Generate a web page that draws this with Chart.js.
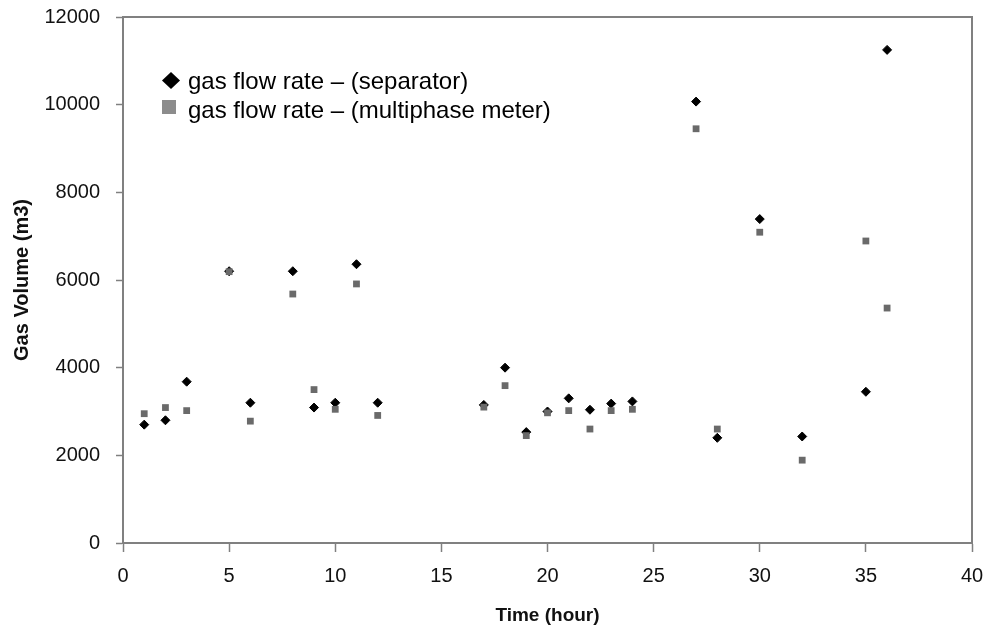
<!DOCTYPE html>
<html>
<head>
<meta charset="utf-8">
<title>Gas Volume vs Time</title>
<script src="https://cdn.jsdelivr.net/npm/chart.js@4.4.0/dist/chart.umd.min.js"></script>
<style>
    html, body { margin: 0; padding: 0; background: #ffffff; }
    #gasChart { display: block; }
</style>
</head>
<body>
<canvas id="gasChart" width="990" height="628"></canvas>
<script>
// Time (hour) of every measurement
const hours = [1, 2, 3, 5, 6, 8, 9, 10, 11, 12, 17, 18, 19, 20, 21, 22, 23, 24, 27, 28, 30, 32, 35, 36];

// Gas volume (m3) read from the separator
const separatorVolumes = [2700, 2800, 3680, 6200, 3200, 6200, 3090, 3200, 6360, 3200, 3150, 4000,
                          2530, 3000, 3300, 3040, 3180, 3230, 10070, 2400, 7390, 2430, 3450, 11250];

// Gas volume (m3) read from the multiphase meter
const meterVolumes = [2950, 3090, 3020, 6190, 2780, 5680, 3500, 3050, 5910, 2910, 3100, 3590,
                      2450, 2970, 3020, 2600, 3020, 3050, 9450, 2600, 7090, 1890, 6890, 5360];

const legendLabels = ['gas flow rate \u2013 (separator)', 'gas flow rate \u2013 (multiphase meter)'];
const xTicks = [0, 5, 10, 15, 20, 25, 30, 35, 40];
const yTicks = [0, 2000, 4000, 6000, 8000, 10000, 12000];

const axisGray = '#808080';
const fontFamily = '"Liberation Sans", Arial, sans-serif';

function toPoints(xs, ys) {
    return xs.map((x, i) => ({ x: x, y: ys[i] }));
}

// Box round the plot area (Excel style frame)
const frameBox = {
    id: 'frameBox',
    beforeDatasetsDraw(chart) {
        const { ctx, chartArea } = chart;
        ctx.save();
        ctx.strokeStyle = axisGray;
        ctx.lineWidth = 2;
        ctx.strokeRect(chartArea.left, chartArea.top, chartArea.right - chartArea.left, chartArea.bottom - chartArea.top);
        ctx.restore();
    }
};

// Legend drawn inside the plot, top left
const insideLegend = {
    id: 'insideLegend',
    afterDraw(chart) {
        const ctx = chart.ctx;
        ctx.save();
        ctx.font = '24px ' + fontFamily;
        ctx.fillStyle = '#000';
        ctx.textBaseline = 'alphabetic';

        // diamond marker
        ctx.beginPath();
        ctx.moveTo(171, 72);
        ctx.lineTo(180, 80.5);
        ctx.lineTo(171, 89);
        ctx.lineTo(162, 80.5);
        ctx.closePath();
        ctx.fill();
        ctx.fillText(chart.data.datasets[0].label, 188, 89);

        // square marker
        ctx.fillStyle = '#8c8c8c';
        ctx.fillRect(162, 100, 14, 14);
        ctx.fillStyle = '#000';
        ctx.fillText(chart.data.datasets[1].label, 188, 118);
        ctx.restore();
    }
};

const ctx = document.getElementById('gasChart');
const gasChart = new Chart(ctx, {
    type: 'scatter',
    data: {
        datasets: [{
            label: legendLabels[0],
            data: toPoints(hours, separatorVolumes),
            pointStyle: 'rectRot',
            pointRadius: 4.5,
            backgroundColor: '#000000',
            borderColor: '#000000',
            borderWidth: 1,
            order: 1
        }, {
            label: legendLabels[1],
            data: toPoints(hours, meterVolumes),
            pointStyle: 'rect',
            pointRadius: 4.8,
            backgroundColor: '#6a6a6a',
            borderColor: '#6a6a6a',
            borderWidth: 0,
            order: 0
        }]
    },
    options: {
        responsive: false,
        animation: false,
        devicePixelRatio: 1,
        layout: {
            padding: { top: 17, right: 18, left: 0, bottom: 0 }
        },
        plugins: {
            legend: { display: false },
            tooltip: { enabled: false }
        },
        scales: {
            x: {
                type: 'linear',
                min: 0,
                max: 40,
                afterBuildTicks: scale => { scale.ticks = xTicks.map(v => ({ value: v })); },
                afterFit: scale => {
                    scale.height = 85;
                    scale.paddingLeft = 0;
                    scale.paddingRight = 0;
                },
                grid: {
                    drawOnChartArea: false,
                    drawTicks: true,
                    tickLength: 9,
                    tickColor: axisGray,
                    tickWidth: 1.5
                },
                border: { display: true, color: axisGray, width: 2 },
                ticks: {
                    color: '#111',
                    padding: 12,
                    maxRotation: 0,
                    font: { family: fontFamily, size: 20 },
                    callback: value => String(value)
                },
                title: {
                    display: true,
                    text: 'Time (hour)',
                    color: '#111',
                    font: { family: fontFamily, size: 19, weight: 'bold' },
                    padding: { top: 0, bottom: 1 }
                }
            },
            y: {
                type: 'linear',
                min: 0,
                max: 12000,
                afterBuildTicks: scale => { scale.ticks = yTicks.map(v => ({ value: v })); },
                afterFit: scale => {
                    scale.width = 123;
                    scale.paddingTop = 0;
                    scale.paddingBottom = 0;
                },
                grid: {
                    drawOnChartArea: false,
                    drawTicks: true,
                    tickLength: 7,
                    tickColor: axisGray,
                    tickWidth: 1.5
                },
                border: { display: true, color: axisGray, width: 2 },
                ticks: {
                    color: '#111',
                    padding: 16,
                    font: { family: fontFamily, size: 20 },
                    callback: value => String(value)
                },
                title: {
                    display: true,
                    text: 'Gas Volume (m3)',
                    color: '#111',
                    font: { family: fontFamily, size: 20, weight: 'bold' },
                    padding: { top: 10, bottom: 0 }
                }
            }
        }
    },
    plugins: [frameBox, insideLegend]
});
</script>
</body>
</html>
